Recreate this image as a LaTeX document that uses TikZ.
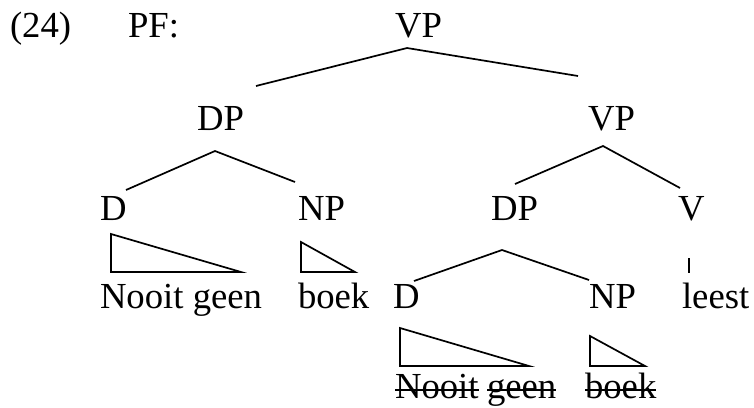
\documentclass[tikz,border=0pt]{standalone}
\usepackage{fontspec}
\setmainfont{Liberation Serif}
\begin{document}
\begin{tikzpicture}[x=1pt,y=-1pt,
  lab/.style={anchor=base west,inner sep=0pt,outer sep=0pt,
    font=\fontsize{36.7}{40}\selectfont},
  branch/.style={line width=1.7pt},
  tri/.style={line width=1.7pt,line join=miter}]
\useasboundingbox (0,0) rectangle (754,407);

% header
\node[lab] (ex) at (10,37) {(24)};
\node[lab] (pf) at (128,37) {PF:};

% category labels
\node[lab] (vp0) at (395,37) {VP};
\node[lab] (dp1) at (197,130) {DP};
\node[lab] (vp1) at (588,130) {VP};
\node[lab] (d1)  at (100,220) {D};
\node[lab] (np1) at (298,220) {NP};
\node[lab] (dp2) at (491,220) {DP};
\node[lab] (v1)  at (678,220) {V};

% pronounced words
\node[lab] (w1) at (100,308) {Nooit geen};
\node[lab] (w2) at (298,308) {boek};
\node[lab] (d2) at (393,308) {D};
\node[lab] (np2) at (589,308) {NP};
\node[lab] (w3) at (682,308) {leest};

% deleted copies
\node[lab] (s1) at (395,398) {Nooit};
\node[lab] (s2) at (487,398) {geen};
\node[lab] (s3) at (585,398) {boek};

% branch points
\coordinate (a0) at (407,48);
\coordinate (a0l) at (256,86);
\coordinate (a0r) at (578,76);
\coordinate (a1) at (215,151);
\coordinate (a1l) at (126,190);
\coordinate (a1r) at (295,182);
\coordinate (a2) at (603,146);
\coordinate (a2l) at (515,184);
\coordinate (a2r) at (680,188);
\coordinate (a3) at (502,250);
\coordinate (a3l) at (414,281);
\coordinate (a3r) at (589,280);
\coordinate (vt) at (689,258);
\coordinate (vb) at (689,273);

\draw[branch] (a0l) -- (a0) -- (a0r);
\draw[branch] (a1l) -- (a1) -- (a1r);
\draw[branch] (a2l) -- (a2) -- (a2r);
\draw[branch] (a3l) -- (a3) -- (a3r);
\draw[branch] (vt) -- (vb);

% triangles
\draw[tri] (111,234) -- (111,272) -- (241,272) -- cycle;
\draw[tri] (301,242) -- (301,272) -- (355,272) -- cycle;
\draw[tri] (400,328) -- (400,366) -- (529,366) -- cycle;
\draw[tri] (590,336) -- (590,366) -- (645,366) -- cycle;

% strike-through
\foreach \s in {s1,s2,s3}
  \draw[line width=1.7pt] ([yshift=8pt]\s.base west) -- ([yshift=8pt]\s.base east);
\end{tikzpicture}
\end{document}
